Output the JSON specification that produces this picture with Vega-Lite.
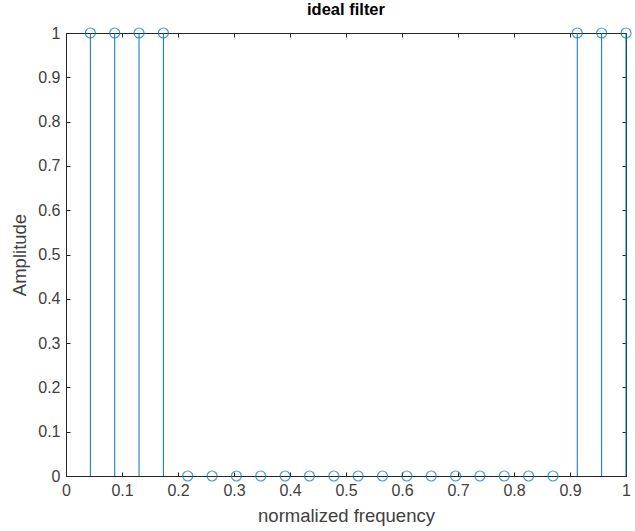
{
  "$schema": "https://vega.github.io/schema/vega-lite/v6.json",
  "width": 560,
  "height": 443,
  "autosize": "none",
  "padding": {"left": 66, "top": 33, "right": 9, "bottom": 55},
  "background": "white",
  "title": {"text": "ideal filter", "font": "Liberation Sans", "fontSize": 16.5, "fontWeight": "bold", "color": "#000000", "offset": 7, "anchor": "middle"},
  "config": {
    "view": {"stroke": "#262626", "strokeWidth": 1},
    "axis": {
      "grid": false,
      "domainColor": "#262626",
      "tickColor": "#262626",
      "tickSize": -4,
      "labelFont": "Liberation Sans",
      "labelFontSize": 16,
      "labelColor": "#404040",
      "titleFont": "Liberation Sans",
      "titleFontSize": 18.5,
      "titleFontWeight": "normal",
      "titleColor": "#404040"
    }
  },
  "data": {"values": [
    {"f": 0.0435, "a": 1}, {"f": 0.0870, "a": 1}, {"f": 0.1304, "a": 1}, {"f": 0.1739, "a": 1},
    {"f": 0.2174, "a": 0}, {"f": 0.2609, "a": 0}, {"f": 0.3043, "a": 0}, {"f": 0.3478, "a": 0},
    {"f": 0.3913, "a": 0}, {"f": 0.4348, "a": 0}, {"f": 0.4783, "a": 0}, {"f": 0.5217, "a": 0},
    {"f": 0.5652, "a": 0}, {"f": 0.6087, "a": 0}, {"f": 0.6522, "a": 0}, {"f": 0.6957, "a": 0},
    {"f": 0.7391, "a": 0}, {"f": 0.7826, "a": 0}, {"f": 0.8261, "a": 0}, {"f": 0.8696, "a": 0},
    {"f": 0.9130, "a": 1}, {"f": 0.9565, "a": 1}, {"f": 1.0, "a": 1}
  ]},
  "layer": [
    {
      "mark": {"type": "rule", "color": "#0072BD", "strokeWidth": 1},
      "encoding": {
        "x": {"field": "f", "type": "quantitative", "scale": {"domain": [0, 1], "nice": false, "zero": false},
              "axis": {"orient": "bottom", "title": "normalized frequency", "values": [0,0.1,0.2,0.3,0.4,0.5,0.6,0.7,0.8,0.9,1], "labelPadding": 10, "titlePadding": 8, "labelFlush": false, "format": "~g"}},
        "y": {"field": "a", "type": "quantitative", "scale": {"domain": [0, 1], "nice": false},
              "axis": {"orient": "left", "title": "Amplitude", "values": [0,0.1,0.2,0.3,0.4,0.5,0.6,0.7,0.8,0.9,1], "labelPadding": 10, "titlePadding": 8, "labelFlush": false, "format": "~g"}},
        "y2": {"datum": 0}
      }
    },
    {
      "mark": {"type": "point", "shape": "circle", "filled": false, "color": "#0072BD", "size": 100, "strokeWidth": 1.2, "clip": false},
      "encoding": {
        "x": {"field": "f", "type": "quantitative", "axis": null},
        "y": {"field": "a", "type": "quantitative", "axis": null}
      }
    },
    {
      "mark": {"type": "rule", "opacity": 0},
      "encoding": {
        "x": {"field": "f", "type": "quantitative", "scale": {"domain": [0, 1], "nice": false, "zero": false},
              "axis": {"orient": "top", "title": null, "labels": false, "values": [0,0.1,0.2,0.3,0.4,0.5,0.6,0.7,0.8,0.9,1]}},
        "y": {"field": "a", "type": "quantitative", "scale": {"domain": [0, 1], "nice": false},
              "axis": {"orient": "right", "title": null, "labels": false, "values": [0,0.1,0.2,0.3,0.4,0.5,0.6,0.7,0.8,0.9,1]}}
      }
    }
  ],
  "resolve": {"axis": {"x": "independent", "y": "independent"}}
}
